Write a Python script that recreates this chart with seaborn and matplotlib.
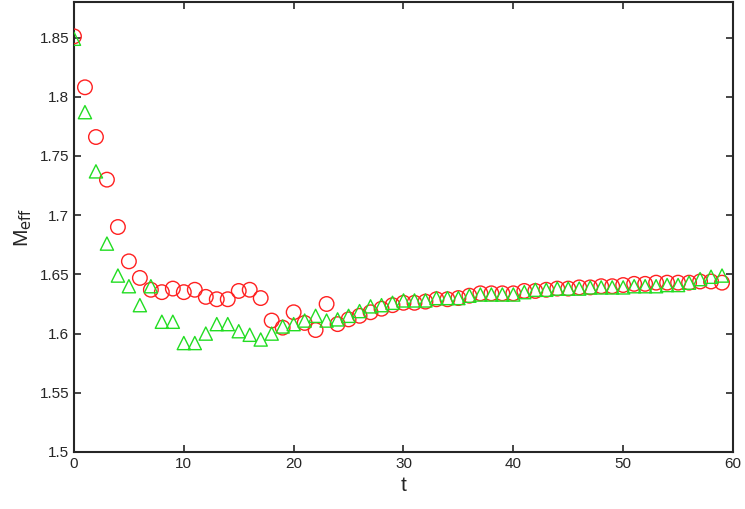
import matplotlib
matplotlib.use("Agg")
import matplotlib.pyplot as plt
import numpy as np
import seaborn as sns

# effective mass vs time slice, two operators
t = list(range(60))
m_circle = [1.851, 1.808, 1.766, 1.730, 1.690, 1.661, 1.647, 1.637, 1.635, 1.638,
            1.635, 1.637, 1.631, 1.629, 1.629, 1.636, 1.637, 1.630, 1.611, 1.605,
            1.618, 1.609, 1.603, 1.625, 1.608, 1.612, 1.615, 1.618, 1.621, 1.624,
            1.626, 1.626, 1.627, 1.629, 1.629, 1.630, 1.632, 1.634, 1.634, 1.634,
            1.634, 1.636, 1.636, 1.637, 1.638, 1.638, 1.639, 1.639, 1.640, 1.640,
            1.641, 1.642, 1.642, 1.643, 1.643, 1.643, 1.643, 1.644, 1.644, 1.643]
m_triangle = [1.849, 1.787, 1.737, 1.676, 1.649, 1.640, 1.624, 1.640, 1.610, 1.610,
              1.592, 1.592, 1.600, 1.608, 1.608, 1.602, 1.599, 1.595, 1.600, 1.606,
              1.608, 1.611, 1.615, 1.611, 1.612, 1.615, 1.619, 1.623, 1.624, 1.626,
              1.628, 1.628, 1.628, 1.630, 1.630, 1.630, 1.632, 1.633, 1.633, 1.633,
              1.633, 1.635, 1.637, 1.637, 1.638, 1.638, 1.638, 1.639, 1.639, 1.639,
              1.639, 1.640, 1.640, 1.640, 1.641, 1.641, 1.643, 1.646, 1.648, 1.649]

sns.set_style("ticks")
plt.rcParams['font.family'] = ['Liberation Sans', 'DejaVu Sans']
plt.rcParams['xtick.direction'] = 'in'
plt.rcParams['ytick.direction'] = 'in'

fig = plt.figure(figsize=(7.45, 5.09), dpi=100)
ax = fig.add_axes([0.0993, 0.112, 0.8846, 0.884])

sns.scatterplot(x=t, y=m_circle, marker='o', s=110, facecolor='none',
                edgecolor='#ff2020', linewidth=1.0, ax=ax, zorder=3)
sns.scatterplot(x=t, y=m_triangle, marker='^', s=90, facecolor='none',
                edgecolor='#22dd22', linewidth=1.0, ax=ax, zorder=4)

ax.set_xlim(0, 60)
ax.set_ylim(1.5, 1.88)
ax.set_xticks([0, 10, 20, 30, 40, 50, 60])
ax.set_yticks([1.5, 1.55, 1.6, 1.65, 1.7, 1.75, 1.8, 1.85])
ax.set_yticklabels(['1.5', '1.55', '1.6', '1.65', '1.7', '1.75', '1.8', '1.85'])
ax.tick_params(top=True, right=True, length=5, width=1.2, labelsize=11)
for s in ax.spines.values():
    s.set_linewidth(1.5)
    s.set_visible(True)

ax.set_xlabel("t", fontsize=15)
ax.set_ylabel(r"M$_{\rm eff}$", fontsize=15)

plt.savefig("out.png", dpi=100)
